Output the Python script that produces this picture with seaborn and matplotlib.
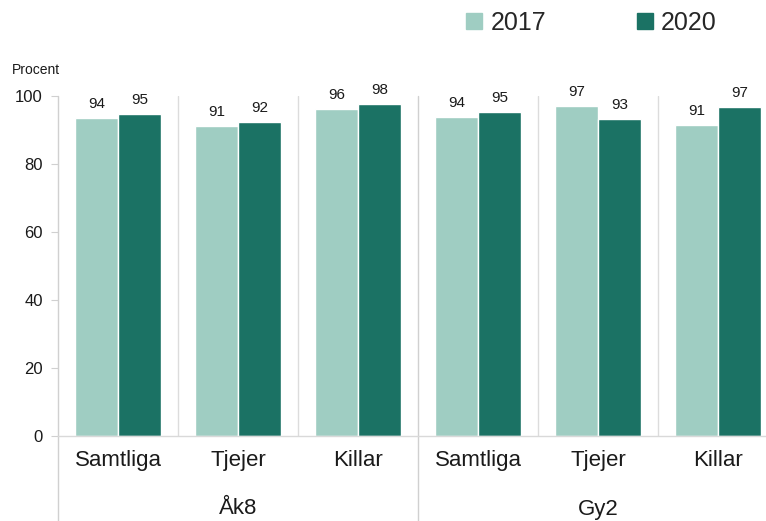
import matplotlib
matplotlib.use("Agg")
import matplotlib.pyplot as plt
import matplotlib.transforms as mtransforms
from matplotlib.lines import Line2D
import seaborn as sns
import pandas as pd

groups = ["Åk8", "Åk8", "Åk8", "Gy2", "Gy2", "Gy2"]
subgroups = ["Samtliga", "Tjejer", "Killar", "Samtliga", "Tjejer", "Killar"]
values_2017 = [93.6, 91.2, 96.2, 93.8, 97.1, 91.4]
values_2020 = [94.7, 92.4, 97.6, 95.3, 93.2, 96.8]
labels_2017 = ["94", "91", "96", "94", "97", "91"]
labels_2020 = ["95", "92", "98", "95", "93", "97"]
years = ["2017", "2020"]
colors = ["#9fcdc2", "#1b7264"]

sns.set_theme(style="white")
plt.rcParams['font.family'] = ['Liberation Sans', 'DejaVu Sans']

cats = [f"{g}|{s}" for g, s in zip(groups, subgroups)]
df = pd.DataFrame({
    "cat": cats * 2,
    "year": ["2017"] * 6 + ["2020"] * 6,
    "value": values_2017 + values_2020,
})

fig = plt.figure(figsize=(7.66, 5.21), dpi=100)
ax = fig.add_axes([58 / 766, 85 / 521, (766 - 58) / 766, 340 / 521])

sns.barplot(data=df, x="cat", y="value", hue="year", order=cats, hue_order=years,
            palette=colors, width=0.71, edgecolor="white", linewidth=1,
            saturation=1, ax=ax, legend=False)

for container, labs in zip(ax.containers, [labels_2017, labels_2020]):
    ax.bar_label(container, labels=labs, padding=5, fontsize=11, color="#1a1a1a", clip_on=False)

ax.set_ylim(0, 100)
ax.set_xlim(-0.5, 5.4)
ax.set_yticks([0, 20, 40, 60, 80, 100])
ax.tick_params(axis="y", labelsize=12, colors="#1a1a1a", length=5, width=0.8,
               color="#d0d0d0", pad=6, direction="out", left=True)
ax.set_xticks(range(6))
ax.set_xticklabels(subgroups, fontsize=16, color="#1a1a1a")
ax.tick_params(axis="x", length=0, pad=10)
ax.set_xlabel("")
ax.set_ylabel("")

for side in ["top", "right"]:
    ax.spines[side].set_visible(False)
ax.spines["left"].set_visible(False)
ax.spines["bottom"].set_color("#d9d9d9")
ax.spines["bottom"].set_linewidth(1)

# separators between subgroups
for xpos in [0.5, 1.5, 3.5, 4.5]:
    ax.axvline(xpos, ymin=0, ymax=1, color="#dcdcdc", linewidth=1, zorder=0)

# group separators extending below
trans = mtransforms.blended_transform_factory(ax.transData, ax.transAxes)
for xpos in [-0.5, 2.5]:
    ax.add_line(Line2D([xpos, xpos], [1, -85 / 340], transform=trans, color="#d0d0d0",
                       linewidth=1, clip_on=False, zorder=0))

# group labels
for center, name in [(1, "Åk8"), (4, "Gy2")]:
    ax.text(center, -73 / 340, name, transform=trans, ha="center", va="center",
            fontsize=16, color="#1a1a1a")

fig.text(12 / 766, 1 - 70 / 521, "Procent", fontsize=10, color="#1a1a1a", va="center", ha="left")

handles = [Line2D([], [], marker="s", linestyle="none", markersize=11,
                  markerfacecolor=c, markeredgecolor=c) for c in colors]
fig.legend(handles, years, loc="center", bbox_to_anchor=(591 / 766, 1 - 23 / 521), ncol=2,
           frameon=False, fontsize=18, handlelength=0.7, handletextpad=0.3,
           columnspacing=3.6)

fig.savefig("out.png", dpi=100)
